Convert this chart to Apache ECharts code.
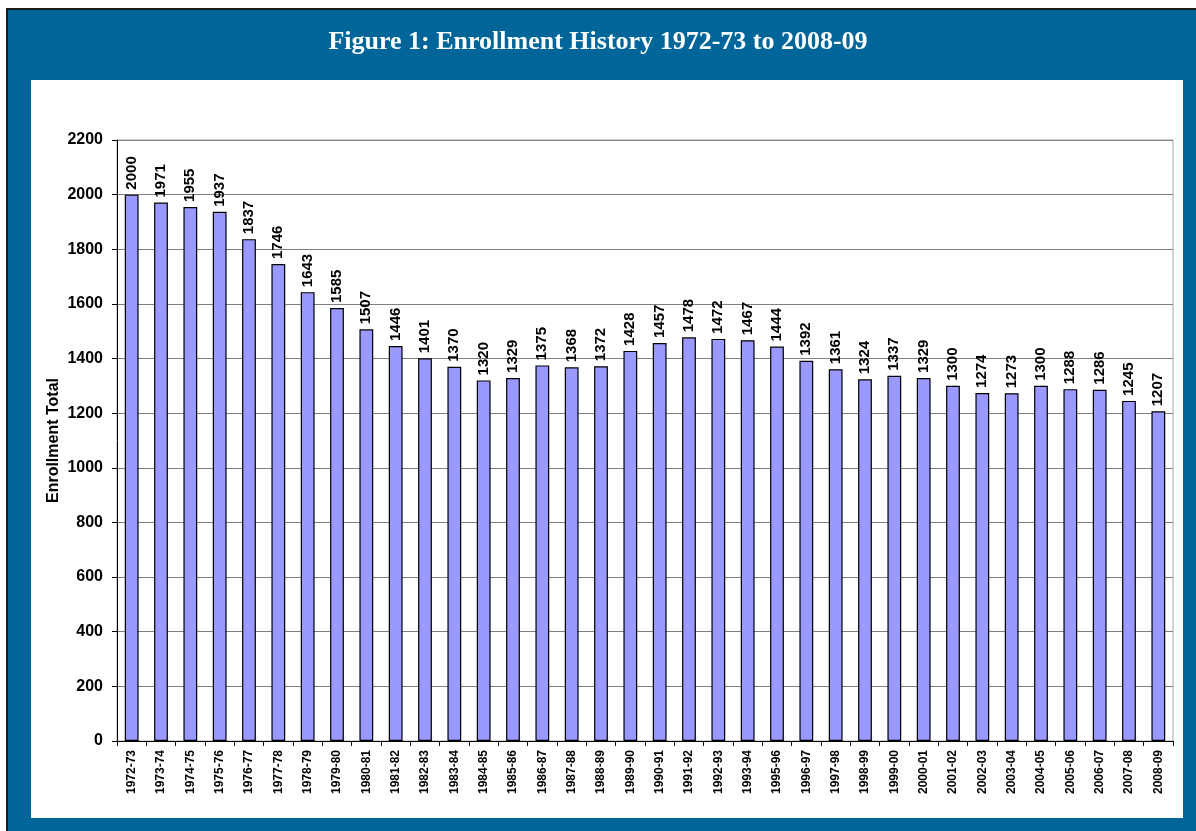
<!DOCTYPE html>
<html>
<head>
<meta charset="utf-8">
<script src="https://cdn.jsdelivr.net/npm/echarts@6/dist/echarts.min.js"></script>
<style>
  html, body { margin: 0; padding: 0; background: #fff; }
  #chart { width: 1196px; height: 831px; }
</style>
</head>
<body>
<div id="chart"></div>
<script>
// school years (1994-95 is not in the source figure)
const years = ['1972-73', '1973-74', '1974-75', '1975-76', '1976-77', '1977-78', '1978-79', '1979-80',
  '1980-81', '1981-82', '1982-83', '1983-84', '1984-85', '1985-86', '1986-87', '1987-88', '1988-89',
  '1989-90', '1990-91', '1991-92', '1992-93', '1993-94', '1995-96', '1996-97', '1997-98', '1998-99',
  '1999-00', '2000-01', '2001-02', '2002-03', '2003-04', '2004-05', '2005-06', '2006-07', '2007-08', '2008-09'];
const enrollment = [2000, 1971, 1955, 1937, 1837, 1746, 1643, 1585, 1507, 1446, 1401, 1370, 1320, 1329,
  1375, 1368, 1372, 1428, 1457, 1478, 1472, 1467, 1444, 1392, 1361, 1324, 1337, 1329, 1300, 1274, 1273,
  1300, 1288, 1286, 1245, 1207];
const yTicks = { min: 0, max: 2200, step: 200 };

const chart = echarts.init(document.getElementById('chart'));
chart.setOption({
  backgroundColor: '#fff',
  animation: false,
  graphic: [
    // blue frame
    { type: 'rect', z: -10, shape: { x: 7, y: 9, width: 1195, height: 830 },
      style: { fill: '#006699', stroke: '#1a1a1a', lineWidth: 2 } },
    // white panel
    { type: 'rect', z: -9, shape: { x: 31, y: 80, width: 1152, height: 738 },
      style: { fill: '#fff' } }
  ],
  title: {
    text: 'Figure 1: Enrollment History 1972-73 to 2008-09',
    left: 'center',
    top: 24,
    textStyle: { color: '#fff', fontFamily: 'Liberation Serif', fontWeight: 'bold', fontSize: 26 }
  },
  grid: {
    left: 117, top: 140, right: 23, bottom: 90,
    show: true, borderColor: '#a6a6a6', borderWidth: 1
  },
  xAxis: {
    type: 'category',
    data: years,
    axisLine: { lineStyle: { color: '#000', width: 1 } },
    axisTick: { show: true, interval: 0, length: 5, lineStyle: { color: '#000' } },
    axisLabel: {
      interval: 0, rotate: 90, margin: 9,
      color: '#000', fontFamily: 'Liberation Sans', fontWeight: 'bold', fontSize: 12
    }
  },
  yAxis: {
    type: 'value',
    min: yTicks.min, max: yTicks.max, interval: yTicks.step,
    name: 'Enrollment Total',
    nameLocation: 'middle',
    nameRotate: 90,
    nameGap: 55,
    nameMoveOverlap: false,
    nameTextStyle: { color: '#000', fontFamily: 'Liberation Sans', fontWeight: 'bold', fontSize: 16 },
    axisLine: { show: true, lineStyle: { color: '#000', width: 1 } },
    axisTick: { show: true, length: 5, lineStyle: { color: '#000' } },
    axisLabel: {
      margin: 14, color: '#000', fontFamily: 'Liberation Sans', fontWeight: 'bold', fontSize: 16,
      formatter: v => String(v)
    },
    splitLine: { show: true, lineStyle: { color: '#808080', width: 1 } }
  },
  series: [{
    type: 'bar',
    data: enrollment,
    barCategoryGap: '53%',
    itemStyle: { color: '#9999ff', borderColor: '#000', borderWidth: 1.2 },
    label: {
      show: true,
      position: 'top',
      rotate: 90,
      align: 'left',
      verticalAlign: 'middle',
      distance: 5,
      color: '#000',
      fontFamily: 'Liberation Sans',
      fontWeight: 'bold',
      fontSize: 15
    }
  }]
});
</script>
</body>
</html>
